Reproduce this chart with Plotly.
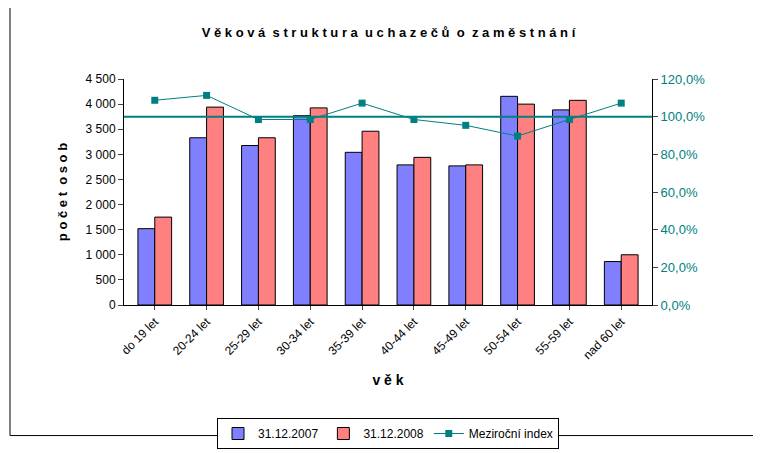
import plotly.graph_objects as go

categories = ["do 19 let","20-24 let","25-29 let","30-34 let","35-39 let","40-44 let","45-49 let","50-54 let","55-59 let","nad 60 let"]
v2007 = [1520, 3330, 3175, 3770, 3040, 2790, 2770, 4155, 3885, 865]
v2008 = [1750, 3940, 3330, 3925, 3460, 2940, 2790, 4000, 4075, 1000]
index_pct = [108.7, 111.3, 98.5, 98.5, 107.2, 98.5, 95.4, 89.7, 98.5, 107.2]
left_ticks = [0,500,1000,1500,2000,2500,3000,3500,4000,4500]
left_labels = ["0","500","1 000","1 500","2 000","2 500","3 000","3 500","4 000","4 500"]
right_ticks = [0,20,40,60,80,100,120]
right_labels = ["0,0%","20,0%","40,0%","60,0%","80,0%","100,0%","120,0%"]

teal = "#008080"
fig = go.Figure()
fig.add_bar(x=categories, y=v2007, name="31.12.2007", marker=dict(color="#8080FF", line=dict(color="black", width=1)))
fig.add_bar(x=categories, y=v2008, name="31.12.2008", marker=dict(color="#FF8080", line=dict(color="black", width=1)))
fig.add_scatter(x=categories, y=index_pct, name="Meziroční index", yaxis="y2", mode="lines+markers",
                line=dict(color=teal, width=1), marker=dict(symbol="square", size=7, color=teal))
fig.add_shape(type="line", xref="paper", x0=0, x1=1, yref="y2", y0=100, y1=100, line=dict(color=teal, width=2))

fig.update_layout(
    width=761, height=453, paper_bgcolor="white", plot_bgcolor="white",
    font=dict(family="Liberation Sans, Arial", size=12, color="black"),
    title=dict(text="<b>V ě k o v á  s t r u k t u r a  u c h a z e č ů  o  z a m ě s t n á n í</b>",
               x=0.5, xanchor="center", y=0.955, font=dict(size=13)),
    margin=dict(l=116, r=117, t=71, b=131),
    barmode="group", bargap=0.35, bargroupgap=0,
    xaxis=dict(showline=True, linecolor="black", ticks="outside", tickangle=-45, ticklen=4,
               title=dict(text="<b>v ě k</b>", font=dict(size=14), standoff=14)),
    yaxis=dict(range=[0,4500], tickvals=left_ticks, ticktext=left_labels, showline=True, linecolor="black",
               ticks="outside", showgrid=False, zeroline=False,
               title=dict(text="<b>p o č e t  o s o b</b>", font=dict(size=13))),
    yaxis2=dict(range=[0,120], overlaying="y", side="right", tickvals=right_ticks, ticktext=right_labels,
                showline=True, linecolor="black", ticks="outside", showgrid=False, zeroline=False,
                tickfont=dict(color=teal, size=13)),
    legend=dict(orientation="h", x=0.5, xanchor="center", y=-0.5, yanchor="top",
                bordercolor="black", borderwidth=1, font=dict(size=12)),
)
fig.add_shape(type="rect", xref="paper", yref="paper", x0=-114/528, x1=1+105/528, y0=-145/251, y1=1+83/251,
              line=dict(color="black", width=1))
fig.write_html("out.html")
